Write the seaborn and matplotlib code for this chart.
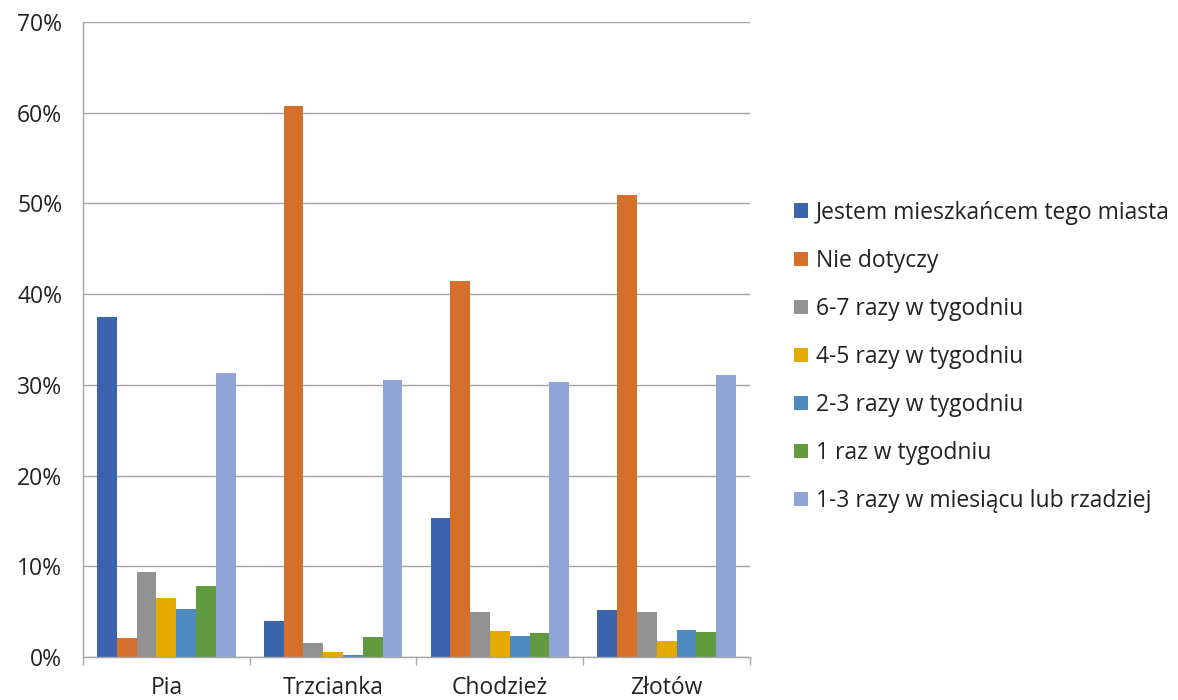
import matplotlib
matplotlib.use("Agg")
import matplotlib.pyplot as plt
from matplotlib.patches import Patch
from matplotlib.ticker import MultipleLocator, FuncFormatter
import seaborn as sns
import pandas as pd

cities = ["Pia", "Trzcianka", "Chodzież", "Złotów"]
series = [
    "Jestem mieszkańcem tego miasta",
    "Nie dotyczy",
    "6-7 razy w tygodniu",
    "4-5 razy w tygodniu",
    "2-3 razy w tygodniu",
    "1 raz w tygodniu",
    "1-3 razy w miesiącu lub rzadziej",
]
resident = [37.5, 4.0, 15.3, 5.2]
not_applicable = [2.1, 60.7, 41.5, 50.9]
days_6_7 = [9.4, 1.5, 5.0, 5.0]
days_4_5 = [6.5, 0.6, 2.9, 1.8]
days_2_3 = [5.3, 0.2, 2.35, 3.0]
once_week = [7.8, 2.2, 2.6, 2.75]
monthly_or_less = [31.3, 30.5, 30.3, 31.1]
colors = ["#3C64AE", "#D5702C", "#929292", "#E5AA00", "#4E89C0", "#619A3F", "#8EA5D5"]

values = [resident, not_applicable, days_6_7, days_4_5, days_2_3, once_week, monthly_or_less]
rows = []
for name, vals in zip(series, values):
    for city, v in zip(cities, vals):
        rows.append({"city": city, "series": name, "value": v})
df = pd.DataFrame(rows)

sns.set_theme(style="white")
plt.rcParams["font.family"] = ["Open Sans", "DejaVu Sans"]

FS = 16.5

fig = plt.figure(figsize=(11.78, 7.0), dpi=100)
ax = fig.add_axes([83 / 1178, 43 / 700, (750 - 83) / 1178, (657 - 22) / 700])

sns.barplot(data=df, x="city", y="value", hue="series", order=cities,
            hue_order=series, palette=colors, width=0.83, saturation=1,
            linewidth=0, ax=ax, legend=False)

ax.set_ylim(0, 70)
ax.set_xlim(-0.5, 3.5)
ax.yaxis.set_major_locator(MultipleLocator(10))
ax.yaxis.set_major_formatter(FuncFormatter(lambda v, _: f"{int(round(v))}%"))
ax.grid(axis="y", color="#A6A6A6", linewidth=1.0)
ax.set_axisbelow(True)
ax.set_xlabel("")
ax.set_ylabel("")

for side in ["top", "right"]:
    ax.spines[side].set_visible(False)
ax.spines["left"].set_color("#A6A6A6")
ax.spines["bottom"].set_color("#A6A6A6")
ax.spines["left"].set_linewidth(1.0)
ax.spines["bottom"].set_linewidth(1.0)

# category boundaries as minor ticks below the axis
ax.set_xticks([-0.5, 0.5, 1.5, 2.5, 3.5], minor=True)
ax.tick_params(axis="x", which="minor", length=6, color="#A6A6A6", width=1.0, bottom=True)
ax.tick_params(axis="x", which="major", length=0, labelsize=FS, colors="#222222", pad=14)
ax.tick_params(axis="y", length=0, labelsize=FS, colors="#222222", pad=15)

handles = [Patch(facecolor=c, edgecolor="none") for c in colors]
fig.legend(handles, series, loc="center left", bbox_to_anchor=(785 / 1178, 1 - 357 / 700),
           frameon=False, fontsize=FS, handlelength=0.6, handleheight=0.6,
           handletextpad=0.35, labelspacing=1.05, borderaxespad=0, labelcolor="#222222")

fig.savefig("out.png", dpi=100)
